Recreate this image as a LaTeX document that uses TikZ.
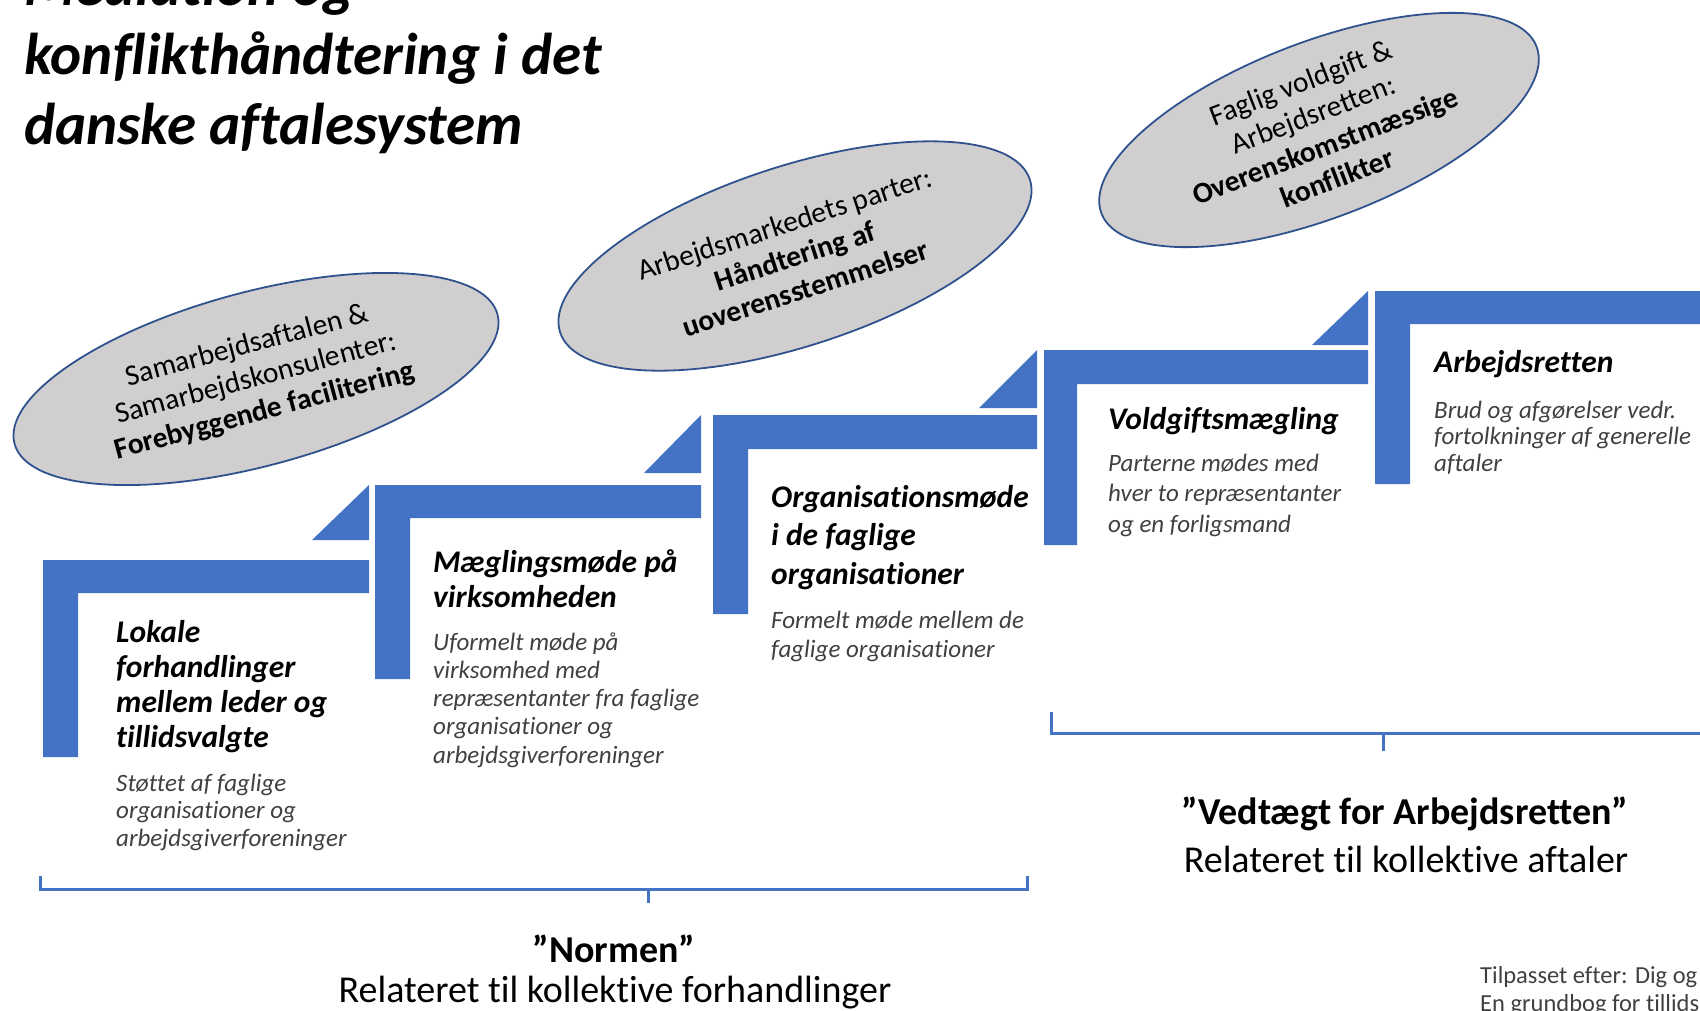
\documentclass[tikz,border=0pt]{standalone}
\usepackage{fontspec}
\setmainfont{Carlito}[Ligatures=NoCommon]
\usetikzlibrary{shapes.geometric}
\definecolor{stepblue}{HTML}{4472C4}
\definecolor{ellfill}{HTML}{D0CECE}
\definecolor{elldraw}{HTML}{2F528F}
\definecolor{subgray}{HTML}{404040}
\begin{document}
\begin{tikzpicture}[x=1pt,y=-1pt,
  stepshape/.style={fill=stepblue, draw=none},
  bubble/.style={ellipse, fill=ellfill, draw=elldraw, line width=1.8pt, inner sep=0pt, align=center, font=\fontsize{29.5}{34}\selectfont},
  titletext/.style={anchor=base west, inner sep=0pt, font=\fontsize{59}{70}\selectfont\bfseries\itshape},
  steptitle/.style={anchor=base west, inner sep=0pt, align=left, font=\fontsize{31.5}{35}\selectfont\bfseries\itshape},
  stepsub/.style={anchor=base west, inner sep=0pt, align=left, text=subgray, font=\fontsize{25}{27.5}\selectfont\itshape},
  brace/.style={draw=stepblue, line width=3pt},
  bighead/.style={anchor=center, inner sep=0pt, font=\fontsize{38}{44}\selectfont\bfseries},
  bigsub/.style={anchor=center, inner sep=0pt, font=\fontsize{38}{44}\selectfont},
  footnote/.style={anchor=base west, inner sep=0pt, align=left, text=subgray, font=\fontsize{24.5}{28}\selectfont}
]
\useasboundingbox (0,0) rectangle (1700,1010);
\clip (0,0) rectangle (1700,1010);

% title
\node[titletext] (title1) at (24,5) {Mediation og};
\node[titletext] (title2) at (24,74) {konflikthåndtering i det};
\node[titletext] (title3) at (24,144) {danske aftalesystem};

% ellipses
\node[bubble, minimum width=500pt, minimum height=174pt, rotate=15] (ell1) at (256,379)
  {Samarbejdsaftalen \&\\Samarbejdskonsulenter:\\\textbf{Forebyggende facilitering}};
\node[bubble, minimum width=494pt, minimum height=180pt, rotate=18] (ell2) at (795,256)
  {Arbejdsmarkedets parter:\\\textbf{Håndtering af}\\\textbf{uoverensstemmelser}};
\node[bubble, minimum width=466pt, minimum height=176pt, rotate=21] (ell3) at (1319,130)
  {Faglig voldgift \&\\Arbejdsretten:\\\textbf{Overenskomstmæssige}\\\textbf{konflikter}};

% steps (L-shapes)
\fill[stepshape] (43,560) -- (369,560) -- (369,593) -- (78,593) -- (78,757) -- (43,757) -- cycle;
\fill[stepshape] (375,485) -- (701,485) -- (701,518) -- (410,518) -- (410,679) -- (375,679) -- cycle;
\fill[stepshape] (713,415) -- (1037,415) -- (1037,449) -- (748,449) -- (748,614) -- (713,614) -- cycle;
\fill[stepshape] (1044,350) -- (1368,350) -- (1368,384) -- (1077,384) -- (1077,545) -- (1044,545) -- cycle;
\fill[stepshape] (1375,291) -- (1720,291) -- (1720,324) -- (1410,324) -- (1410,484) -- (1375,484) -- cycle;

% triangles
\fill[stepshape] (312,540) -- (369,540) -- (369,485) -- cycle;
\fill[stepshape] (644,473) -- (701,473) -- (701,415) -- cycle;
\fill[stepshape] (979,408) -- (1037,408) -- (1037,350) -- cycle;
\fill[stepshape] (1312,345) -- (1368,345) -- (1368,291) -- cycle;

% step texts (anchored at the baseline of the last line)
\node[steptitle] (t1) at (116,747) {Lokale\\forhandlinger\\mellem leder og\\tillidsvalgte};
\node[stepsub] (s1) at (116,846) {Støttet af faglige\\organisationer og\\arbejdsgiverforeninger};

\node[steptitle] (t2) at (433,607) {Mæglingsmøde på\\virksomheden};
\node[stepsub, font=\fontsize{25}{28.2}\selectfont\itshape] (s2) at (433,763) {Uformelt møde på\\virksomhed med\\repræsentanter fra faglige\\organisationer og\\arbejdsgiverforeninger};

\node[steptitle, font=\fontsize{31.5}{38.5}\selectfont\bfseries\itshape] (t3) at (771,584) {Organisationsmøde\\i de faglige\\organisationer};
\node[stepsub, font=\fontsize{25}{29}\selectfont\itshape] (s3) at (771,657) {Formelt møde mellem de\\faglige organisationer};

\node[steptitle] (t4) at (1108,429) {Voldgiftsmægling};
\node[stepsub, font=\fontsize{25}{30.5}\selectfont\itshape] (s4) at (1108,532) {Parterne mødes med\\hver to repræsentanter\\og en forligsmand};

\node[steptitle] (t5) at (1434,372) {Arbejdsretten};
\node[stepsub, font=\fontsize{25}{26.5}\selectfont\itshape] (s5) at (1434,471) {Brud og afgørelser vedr.\\fortolkninger af generelle\\aftaler};

% braces
\draw[brace] (40,876) -- (40,889) -- (1027,889) -- (1027,876);
\draw[brace] (648,889) -- (648,903);
\draw[brace] (1051,712) -- (1051,733) -- (1720,733);
\draw[brace] (1383,733) -- (1383,751);

% bottom labels
\node[bighead] (normen) at (614,949) {”Normen”};
\node[bigsub] (normensub) at (615,993) {Relateret til kollektive forhandlinger};
\node[bighead] (vedt) at (1405,814) {”Vedtægt for Arbejdsretten”};
\node[bigsub] (vedtsub) at (1406,859) {Relateret til kollektive aftaler};

% footnote
\node[footnote] (foot) at (1480,1011) {Tilpasset efter: Dig og\\En grundbog for tillids};
\end{tikzpicture}
\end{document}
